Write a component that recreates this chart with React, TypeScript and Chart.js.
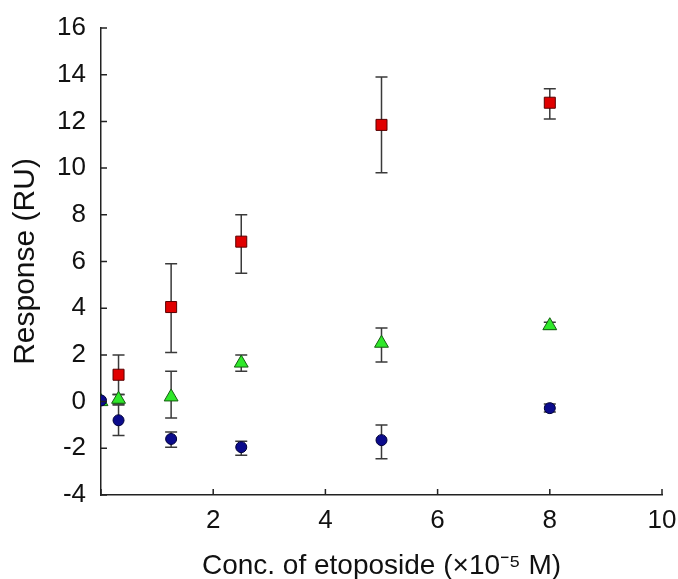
import React, { useEffect, useRef } from "react";
import { Chart, registerables } from "chart.js";

Chart.register(...registerables);

const concentrations = [0, 0.3125, 1.25, 2.5, 5, 8];

const redValues = [null, 1.15, 4.05, 6.85, 11.85, 12.8];
const redLow = [null, 0.3, 2.1, 5.5, 9.8, 12.1];
const redHigh = [null, 2.0, 5.9, 8.0, 13.9, 13.4];

const greenValues = [0, 0.1, 0.2, 1.65, 2.5, 3.25];
const greenLow = [0, -0.1, -0.7, 1.3, 1.7, 3.1];
const greenHigh = [0, 0.3, 1.3, 2.0, 3.15, 3.4];

const blueValues = [0.05, -0.8, -1.6, -1.95, -1.65, -0.28];
const blueLow = [0.05, -1.45, -1.95, -2.3, -2.45, -0.45];
const blueHigh = [0.05, -0.15, -1.3, -1.7, -1.0, -0.1];

const xTickValues = [0, 2, 4, 6, 8, 10];
const yTickValues = [-4, -2, 0, 2, 4, 6, 8, 10, 12, 14, 16];

const xTitle = "Conc. of etoposide (×10⁻⁵ M)";
const yTitle = "Response (RU)";

const FONT = "'Liberation Sans', Arial, Helvetica, sans-serif";

function points(values: (number | null)[]) {
  return concentrations.map((x, i) => ({ x, y: values[i] }));
}

const errorBarPlugin = {
  id: "errorBars",
  beforeDatasetsDraw(chart: any) {
    const ctx = chart.ctx;
    const xs = chart.scales.x;
    const ys = chart.scales.y;
    chart.data.datasets.forEach((ds: any) => {
      const lo = ds.errLow as (number | null)[];
      const hi = ds.errHigh as (number | null)[];
      if (!lo || !hi) return;
      ctx.save();
      ctx.strokeStyle = "#3a3a3a";
      ctx.lineWidth = 1.5;
      concentrations.forEach((cx, i) => {
        if (lo[i] == null || hi[i] == null) return;
        const px = xs.getPixelForValue(cx);
        const pLo = ys.getPixelForValue(lo[i]);
        const pHi = ys.getPixelForValue(hi[i]);
        if (Math.abs(pLo - pHi) < 1) return;
        const cap = 6;
        ctx.beginPath();
        ctx.moveTo(px, pLo);
        ctx.lineTo(px, pHi);
        ctx.moveTo(px - cap, pLo);
        ctx.lineTo(px + cap, pLo);
        ctx.moveTo(px - cap, pHi);
        ctx.lineTo(px + cap, pHi);
        ctx.stroke();
      });
      ctx.restore();
    });
  },
};

const inwardTicksPlugin = {
  id: "inwardTicks",
  afterDraw(chart: any) {
    const ctx = chart.ctx;
    const xs = chart.scales.x;
    const ys = chart.scales.y;
    const area = chart.chartArea;
    const len = 6;
    ctx.save();
    ctx.strokeStyle = "#222";
    ctx.lineWidth = 1.5;
    ctx.beginPath();
    xs.ticks.forEach((t: any) => {
      const px = xs.getPixelForValue(t.value);
      ctx.moveTo(px, area.bottom);
      ctx.lineTo(px, area.bottom - len);
    });
    ys.ticks.forEach((t: any) => {
      const py = ys.getPixelForValue(t.value);
      ctx.moveTo(area.left, py);
      ctx.lineTo(area.left + len, py);
    });
    ctx.stroke();
    ctx.restore();
  },
};

export default function App() {
  const canvasRef = useRef<HTMLCanvasElement | null>(null);

  useEffect(() => {
    document.body.style.margin = "0";
    const canvas = canvasRef.current;
    if (!canvas) return;
    const chart = new Chart(canvas, {
      type: "scatter",
      data: {
        datasets: [
          {
            label: "blue",
            data: points(blueValues),
            pointStyle: "circle",
            pointRadius: 5.5,
            backgroundColor: "#0b0b8c",
            borderColor: "#00003a",
            borderWidth: 1,
            errLow: blueLow,
            errHigh: blueHigh,
          } as any,
          {
            label: "green",
            data: points(greenValues),
            pointStyle: "triangle",
            pointRadius: 8,
            backgroundColor: "#2fe82a",
            borderColor: "#145c10",
            borderWidth: 1,
            errLow: greenLow,
            errHigh: greenHigh,
          } as any,
          {
            label: "red",
            data: points(redValues),
            pointStyle: "rect",
            pointRadius: 7.8,
            backgroundColor: "#e00000",
            borderColor: "#5a0000",
            borderWidth: 1,
            errLow: redLow,
            errHigh: redHigh,
          } as any,
        ],
      },
      options: {
        responsive: false,
        animation: false,
        layout: { padding: { top: 28, right: 16, left: 0, bottom: 0 } },
        plugins: {
          legend: { display: false },
          tooltip: { enabled: false },
        },
        scales: {
          x: {
            type: "linear",
            min: 0,
            max: 10,
            afterBuildTicks: (scale: any) => {
              scale.ticks = xTickValues.map((v) => ({ value: v }));
            },
            afterFit: (scale: any) => {
              scale.height = 84;
              scale.paddingLeft = 0;
              scale.paddingRight = 0;
            },
            grid: { display: false, drawTicks: false },
            border: { display: true, color: "#222", width: 1.5 },
            ticks: {
              padding: 10,
              color: "#111",
              font: { family: FONT, size: 26 },
              callback: (v: any) => (v === 0 ? "" : String(v)),
            },
            title: {
              display: true,
              text: xTitle,
              color: "#111",
              font: { family: FONT, size: 28 },
              padding: { top: 0, bottom: -4 },
            },
          },
          y: {
            type: "linear",
            min: -4,
            max: 16,
            afterBuildTicks: (scale: any) => {
              scale.ticks = yTickValues.map((v) => ({ value: v }));
            },
            afterFit: (scale: any) => {
              scale.width = 101;
              scale.paddingTop = 0;
              scale.paddingBottom = 0;
            },
            grid: { display: false, drawTicks: false },
            border: { display: true, color: "#222", width: 1.5 },
            ticks: {
              padding: 15,
              color: "#111",
              font: { family: FONT, size: 26 },
              callback: (v: any) => String(v),
            },
            title: {
              display: true,
              text: yTitle,
              color: "#111",
              font: { family: FONT, size: 30 },
              padding: { top: 8, bottom: 0 },
            },
          },
        },
      },
      plugins: [errorBarPlugin, inwardTicksPlugin],
    });
    return () => chart.destroy();
  }, []);

  return <canvas ref={canvasRef} width={678} height={579} />;
}
